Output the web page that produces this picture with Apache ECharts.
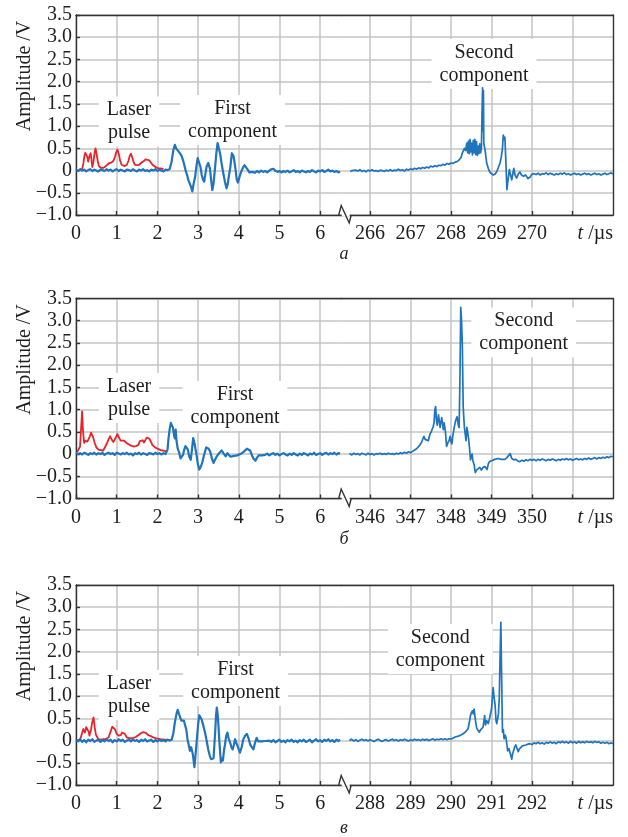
<!DOCTYPE html>
<html>
<head>
<meta charset="utf-8">
<script src="https://cdn.jsdelivr.net/npm/echarts@6/dist/echarts.min.js"></script>
<style>
  html, body { margin: 0; padding: 0; background: #fff; }
  #chart { width: 628px; height: 837px; }
</style>
</head>
<body>
<div id="chart"></div>
<script>
// ---- axes ----
const yMin = -1, yMax = 3.5, yStep = 0.5;
const leftRange = [0, 6.53];
const leftTicks = [0, 1, 2, 3, 4, 5, 6];

const rangeA = [265.3, 272];
const ticksA = [266, 267, 268, 269, 270, 271];
const labelsA = [266, 267, 268, 269, 270];

const rangeB = [345.3, 352];
const ticksB = [346, 347, 348, 349, 350, 351];
const labelsB = [346, 347, 348, 349, 350];

const rangeC = [287.3, 294];
const ticksC = [288, 289, 290, 291, 292, 293];
const labelsC = [288, 289, 290, 291, 292];

const panelLetters = ['а', 'б', 'в'];

// ---- panel a: time (µs), amplitude (V) ----
const laserA = [[0.10,0.02],[0.15,0.03],[0.18,0.15],[0.21,0.35],[0.23,0.4],[0.25,0.43],[0.28,0.3],[0.30,0.2],[0.33,0.32],[0.36,0.39],[0.38,0.25],[0.40,0.08],[0.43,0.2],[0.46,0.42],[0.48,0.5],[0.51,0.35],[0.54,0.18],[0.57,0.09],[0.62,0.06],[0.67,0.06],[0.72,0.09],[0.77,0.13],[0.82,0.17],[0.87,0.18],[0.92,0.22],[0.96,0.32],[0.99,0.42],[1.02,0.47],[1.05,0.38],[1.08,0.24],[1.12,0.13],[1.16,0.1],[1.20,0.1],[1.25,0.13],[1.29,0.22],[1.32,0.33],[1.35,0.38],[1.38,0.3],[1.42,0.18],[1.45,0.13],[1.50,0.12],[1.55,0.13],[1.60,0.17],[1.66,0.21],[1.71,0.25],[1.75,0.26],[1.80,0.23],[1.84,0.19],[1.88,0.13],[1.92,0.09],[1.97,0.07],[2.02,0.05],[2.08,0.05],[2.15,0.03]];

const earlyA = [[0,0.02],[0.05,-0.01],[0.1,0.03],[0.15,0],[0.2,0.02],[0.25,-0.02],[0.3,0.01],[0.35,0.03],[0.4,-0.01],[0.45,0.02],[0.5,0],[0.55,-0.02],[0.6,0.02],[0.65,0.01],[0.7,-0.01],[0.75,0.03],[0.8,0],[0.85,0.02],[0.9,-0.02],[0.95,0.01],[1,0.03],[1.05,-0.01],[1.1,0.02],[1.15,0],[1.2,-0.02],[1.25,0.02],[1.3,0.01],[1.35,-0.01],[1.4,0.03],[1.45,0],[1.5,-0.02],[1.55,0.02],[1.6,0],[1.65,0.03],[1.7,-0.01],[1.75,0.01],[1.8,-0.02],[1.85,0.02],[1.9,0],[1.95,0.03],[2,-0.01],[2.05,0.02],[2.1,0],[2.15,-0.02],[2.2,0.02],[2.25,0.01],[2.3,0.03],
  [2.35,0.2],[2.39,0.45],[2.43,0.58],[2.46,0.5],[2.49,0.52],[2.52,0.43],[2.56,0.38],[2.6,0.32],[2.65,0.17],[2.7,-0.02],[2.73,-0.1],[2.76,-0.21],[2.8,-0.3],[2.83,-0.38],[2.86,-0.47],[2.89,-0.3],[2.93,-0.13],[2.96,0.1],[2.99,0.28],[3.03,0.25],[3.06,0.08],[3.09,-0.1],[3.12,-0.2],[3.15,-0.25],[3.18,-0.08],[3.21,0.09],[3.25,0.17],[3.29,0.05],[3.32,-0.2],[3.35,-0.44],[3.38,-0.3],[3.42,0.09],[3.45,0.4],[3.48,0.62],[3.51,0.5],[3.54,0.39],[3.58,0.15],[3.62,-0.06],[3.66,-0.25],[3.7,-0.4],[3.73,-0.3],[3.76,-0.1],[3.79,0.05],[3.83,0.39],[3.87,0.33],[3.91,0.1],[3.95,-0.2],[3.98,-0.27],[4.01,-0.17],[4.05,-0.05],[4.1,0.06],[4.14,0.12],[4.18,0.08],[4.22,0.02],[4.26,-0.04],[4.3,-0.06],
  [4.35,-0.03],[4.4,-0.05],[4.45,-0.01],[4.5,-0.04],[4.55,0],[4.6,-0.03],[4.65,-0.01],[4.7,-0.04],[4.75,0],[4.8,0.03],[4.85,0.04],[4.9,0],[4.95,-0.03],[5,-0.01],[5.05,-0.04],[5.1,-0.01],[5.15,-0.03],[5.2,0],[5.25,-0.04],[5.3,-0.02],[5.35,0.01],[5.4,-0.03],[5.45,-0.01],[5.5,-0.04],[5.55,0],[5.6,-0.02],[5.65,-0.04],[5.7,-0.01],[5.75,-0.03],[5.8,0.01],[5.85,-0.02],[5.9,-0.04],[5.95,0],[6,-0.02],[6.05,0.01],[6.1,-0.03],[6.15,-0.01],[6.2,0.02],[6.25,-0.02],[6.3,0],[6.35,-0.03],[6.4,-0.01],[6.45,-0.04],[6.49,-0.02]];

const lateA = [[265.51,-0.02],[265.56,0],[265.6,-0.03],[265.65,0.01],[265.7,-0.01],[265.75,0.02],[265.8,-0.02],[265.85,0],[265.9,-0.03],[265.95,0.01],[266,-0.01],[266.05,0.02],[266.1,-0.01],[266.15,0],[266.2,-0.02],[266.25,0.01],[266.3,0],[266.35,-0.02],[266.4,0.01],[266.45,-0.01],[266.5,0.02],[266.55,-0.01],[266.6,0.01],[266.65,0],[266.7,0.03],[266.75,0],[266.8,0.02],[266.85,-0.01],[266.9,0.03],[266.95,0.01],[267,0.04],[267.05,0.02],[267.1,0.05],[267.15,0.03],[267.2,0.06],[267.25,0.04],[267.3,0.07],[267.35,0.05],[267.4,0.08],[267.45,0.06],[267.5,0.1],[267.55,0.08],[267.6,0.11],[267.65,0.09],[267.7,0.12],[267.75,0.11],[267.8,0.14],[267.85,0.12],[267.9,0.16],[267.95,0.14],[268,0.17],[268.05,0.16],[268.1,0.19],[268.15,0.2],[268.2,0.24],[268.25,0.3],[268.28,0.4],[268.3,0.43],[268.33,0.5],[268.36,0.45],[268.39,0.62],[268.41,0.4],[268.43,0.66],[268.45,0.38],[268.47,0.7],[268.49,0.42],[268.51,0.62],[268.53,0.35],[268.55,0.68],[268.57,0.4],[268.59,0.7],[268.61,0.36],[268.63,0.65],[268.65,0.34],[268.67,0.55],[268.69,0.38],[268.71,0.6],[268.73,0.4],[268.75,0.5],[268.77,1.5],[268.78,1.86],[268.79,0.9],[268.8,1.8],[268.81,0.6],[268.84,0.47],[268.88,0.17],[268.92,0.05],[268.96,-0.04],[269,-0.06],[269.04,-0.1],[269.09,-0.08],[269.13,-0.02],[269.17,0],[269.21,0.17],[269.24,0.3],[269.27,0.5],[269.29,0.8],[269.31,0.7],[269.33,0.75],[269.35,0.3],[269.38,-0.43],[269.41,-0.2],[269.44,0.02],[269.47,-0.1],[269.5,-0.21],[269.53,-0.05],[269.55,0.05],[269.58,-0.1],[269.62,-0.17],[269.66,-0.08],[269.7,-0.03],[269.74,-0.1],[269.79,-0.13],[269.84,-0.1],[269.9,-0.18],[269.95,-0.15],[270,-0.08],[270.05,-0.07],[270.1,-0.09],[270.15,-0.06],[270.2,-0.1],[270.25,-0.07],[270.3,-0.08],[270.35,-0.05],[270.4,-0.09],[270.45,-0.06],[270.5,-0.08],[270.55,-0.1],[270.6,-0.07],[270.65,-0.09],[270.7,-0.06],[270.75,-0.08],[270.8,-0.05],[270.85,-0.09],[270.9,-0.07],[270.95,-0.1],[271,-0.08],[271.05,-0.06],[271.1,-0.09],[271.15,-0.07],[271.2,-0.1],[271.25,-0.08],[271.3,-0.06],[271.35,-0.09],[271.4,-0.07],[271.45,-0.1],[271.5,-0.08],[271.55,-0.06],[271.6,-0.09],[271.65,-0.07],[271.7,-0.1],[271.75,-0.08],[271.8,-0.06],[271.85,-0.09],[271.9,-0.07],[271.95,-0.05],[272,-0.08]];

// ---- panel б ----
const laserB = [[0.03,0.05],[0.07,0.08],[0.10,0.17],[0.12,0.5],[0.15,0.96],[0.17,0.55],[0.20,0.25],[0.23,0.3],[0.25,0.32],[0.28,0.28],[0.30,0.27],[0.34,0.4],[0.37,0.48],[0.39,0.51],[0.42,0.38],[0.46,0.25],[0.50,0.15],[0.55,0.1],[0.61,0.09],[0.67,0.08],[0.71,0.12],[0.75,0.22],[0.80,0.33],[0.84,0.4],[0.88,0.32],[0.92,0.27],[0.97,0.36],[1.02,0.45],[1.06,0.36],[1.10,0.3],[1.14,0.33],[1.18,0.3],[1.23,0.26],[1.29,0.22],[1.35,0.19],[1.41,0.17],[1.47,0.18],[1.53,0.2],[1.57,0.29],[1.60,0.25],[1.64,0.31],[1.67,0.26],[1.71,0.3],[1.74,0.37],[1.77,0.34],[1.80,0.35],[1.84,0.28],[1.88,0.2],[1.93,0.16],[1.98,0.13],[2.03,0.11],[2.08,0.09],[2.13,0.08],[2.18,0.07],[2.22,0.06]];

const earlyB = [[0,0.03],[0.05,0],[0.1,0.02],[0.15,-0.01],[0.2,0.03],[0.25,0.01],[0.3,-0.02],[0.35,0.02],[0.4,0],[0.45,0.03],[0.5,-0.01],[0.55,0.02],[0.6,0],[0.65,0.03],[0.7,-0.02],[0.75,0.01],[0.8,0.03],[0.85,0],[0.9,0.02],[0.95,-0.02],[1,0.03],[1.05,0.01],[1.1,-0.01],[1.15,0.02],[1.2,0],[1.25,0.03],[1.3,-0.01],[1.35,0.01],[1.4,-0.03],[1.45,0.02],[1.5,0],[1.55,0.03],[1.6,-0.01],[1.65,0.02],[1.7,0],[1.75,-0.02],[1.8,0.02],[1.85,0.01],[1.9,-0.01],[1.95,0.03],[2,0],[2.05,0.02],[2.1,-0.01],[2.15,0.02],[2.2,0],[2.23,0.02],
  [2.25,0.1],[2.27,0.32],[2.3,0.55],[2.33,0.7],[2.36,0.68],[2.38,0.6],[2.41,0.42],[2.43,0.35],[2.45,0.55],[2.47,0.3],[2.5,0.12],[2.53,0.05],[2.57,-0.1],[2.6,-0.13],[2.63,-0.02],[2.66,0.1],[2.69,0.18],[2.72,0.21],[2.75,0.1],[2.78,-0.05],[2.82,-0.13],[2.85,0.1],[2.88,0.36],[2.91,0.25],[2.95,0.05],[2.99,-0.2],[3.03,-0.35],[3.07,-0.28],[3.11,-0.17],[3.14,-0.05],[3.17,0.05],[3.2,0.15],[3.23,0.19],[3.26,0.12],[3.3,0.05],[3.34,-0.1],[3.38,-0.2],[3.42,-0.12],[3.46,-0.05],[3.5,0],[3.54,0.02],[3.58,0.08],[3.6,0.1],[3.64,0],[3.68,-0.05],[3.72,0.02],[3.76,-0.02],[3.8,-0.06],[3.84,-0.09],[3.88,-0.04],[3.92,-0.06],[3.96,-0.03],[4,-0.05],[4.04,0],[4.08,0.02],[4.12,0.05],[4.16,0.07],[4.2,0.12],[4.24,0.15],[4.28,0.08],[4.32,-0.02],[4.36,-0.1],[4.41,-0.15],[4.45,-0.08],[4.49,-0.03],[4.53,0],[4.57,-0.03],[4.61,0.01],
  [4.65,-0.02],[4.7,0.01],[4.75,-0.03],[4.8,0],[4.85,0.02],[4.9,-0.02],[4.95,0.01],[5,-0.03],[5.05,0],[5.1,0.02],[5.15,-0.01],[5.2,-0.03],[5.25,0.01],[5.3,-0.02],[5.35,0.02],[5.4,-0.01],[5.45,-0.03],[5.5,0.01],[5.55,-0.02],[5.6,0.02],[5.65,0],[5.7,-0.03],[5.75,0.01],[5.8,-0.01],[5.85,0.03],[5.9,-0.02],[5.95,0],[6,0.02],[6.05,-0.02],[6.1,0.01],[6.15,0.03],[6.2,-0.01],[6.25,0.02],[6.3,0],[6.35,0.03],[6.4,-0.01],[6.45,0.02],[6.49,0.01]];

const lateB = [[345.49,0.01],[345.55,-0.02],[345.6,0.02],[345.65,-0.01],[345.7,0.01],[345.75,-0.02],[345.8,0.02],[345.85,0],[345.9,-0.02],[345.95,0.02],[346,-0.01],[346.05,0.01],[346.1,-0.02],[346.15,0.01],[346.2,0],[346.25,0.02],[346.3,-0.01],[346.35,0.01],[346.4,-0.01],[346.45,0.02],[346.5,0],[346.55,0.01],[346.6,-0.01],[346.65,0.02],[346.7,0],[346.75,0.03],[346.8,0.01],[346.85,0.04],[346.9,0.02],[346.95,0.05],[347,0.03],[347.05,0.06],[347.1,0.09],[347.15,0.12],[347.19,0.14],[347.23,0.2],[347.27,0.26],[347.3,0.29],[347.33,0.4],[347.36,0.33],[347.4,0.36],[347.44,0.3],[347.48,0.45],[347.51,0.5],[347.53,0.52],[347.56,0.62],[347.58,0.7],[347.6,1],[347.62,1.07],[347.64,0.75],[347.66,0.65],[347.69,0.88],[347.71,0.85],[347.73,0.6],[347.75,0.72],[347.77,0.82],[347.79,0.83],[347.81,0.55],[347.83,0.7],[347.86,0.52],[347.89,0.17],[347.92,0.25],[347.95,0.3],[347.98,0.4],[348,0.28],[348.02,0.23],[348.05,0.45],[348.08,0.6],[348.1,0.7],[348.12,0.77],[348.15,0.84],[348.18,0.65],[348.2,0.6],[348.22,1.67],[348.24,3.3],[348.26,3],[348.28,2.42],[348.3,1.07],[348.33,0.6],[348.35,0.62],[348.37,0.3],[348.39,0.6],[348.41,0.5],[348.44,0.3],[348.47,0],[348.48,-0.13],[348.5,-0.05],[348.52,0],[348.54,-0.15],[348.57,-0.24],[348.6,-0.42],[348.63,-0.36],[348.67,-0.38],[348.71,-0.3],[348.75,-0.36],[348.79,-0.3],[348.84,-0.28],[348.89,-0.35],[348.92,-0.22],[348.95,-0.17],[349,-0.15],[349.04,-0.17],[349.08,-0.12],[349.12,-0.1],[349.16,-0.1],[349.2,-0.06],[349.24,-0.12],[349.28,-0.1],[349.33,-0.12],[349.38,-0.08],[349.42,-0.05],[349.46,0.01],[349.5,-0.1],[349.55,-0.13],[349.6,-0.12],[349.65,-0.16],[349.7,-0.17],[349.75,-0.14],[349.8,-0.16],[349.85,-0.13],[349.9,-0.15],[349.95,-0.12],[350,-0.14],[350.05,-0.12],[350.1,-0.15],[350.15,-0.12],[350.2,-0.14],[350.25,-0.11],[350.3,-0.13],[350.35,-0.15],[350.4,-0.12],[350.45,-0.14],[350.5,-0.11],[350.55,-0.13],[350.6,-0.15],[350.65,-0.12],[350.7,-0.14],[350.75,-0.11],[350.8,-0.13],[350.85,-0.1],[350.9,-0.13],[350.95,-0.11],[351,-0.14],[351.05,-0.12],[351.1,-0.1],[351.15,-0.13],[351.2,-0.11],[351.25,-0.13],[351.3,-0.1],[351.35,-0.12],[351.4,-0.09],[351.45,-0.12],[351.5,-0.1],[351.55,-0.08],[351.6,-0.11],[351.65,-0.08],[351.7,-0.1],[351.75,-0.07],[351.8,-0.09],[351.85,-0.06],[351.9,-0.08],[351.95,-0.05],[352,-0.06]];

// ---- panel в ----
const laserC = [[0.03,0.01],[0.10,0.02],[0.14,0.04],[0.18,0.26],[0.22,0.18],[0.25,0.3],[0.28,0.33],[0.31,0.2],[0.33,0.11],[0.37,0.25],[0.40,0.42],[0.43,0.52],[0.46,0.3],[0.49,0.13],[0.55,0.03],[0.61,0.02],[0.67,0.03],[0.74,0.04],[0.8,0.07],[0.85,0.2],[0.89,0.31],[0.92,0.34],[0.96,0.25],[1.0,0.15],[1.05,0.11],[1.1,0.12],[1.13,0.18],[1.16,0.22],[1.2,0.15],[1.25,0.07],[1.33,0.05],[1.41,0.06],[1.47,0.08],[1.53,0.12],[1.6,0.17],[1.66,0.19],[1.72,0.17],[1.78,0.12],[1.84,0.1],[1.9,0.07],[1.98,0.05],[2.07,0.03],[2.18,0.02],[2.31,0.01]];

const earlyC = [[0,0.01],[0.05,-0.02],[0.1,0.03],[0.15,-0.03],[0.2,0.01],[0.25,-0.04],[0.3,0.02],[0.35,-0.01],[0.4,0.03],[0.45,-0.03],[0.5,0],[0.55,0.02],[0.6,-0.03],[0.65,0.01],[0.7,-0.02],[0.75,0.03],[0.8,-0.01],[0.85,0.02],[0.9,-0.04],[0.95,0.01],[1,-0.02],[1.05,0.03],[1.1,-0.01],[1.15,0.02],[1.2,-0.03],[1.25,0],[1.3,0.02],[1.35,-0.02],[1.4,0.03],[1.45,-0.01],[1.5,0.01],[1.55,-0.03],[1.6,0.02],[1.65,-0.01],[1.7,0.03],[1.75,-0.02],[1.8,0],[1.85,0.02],[1.9,-0.03],[1.95,0.01],[2,-0.02],[2.05,0.02],[2.1,-0.01],[2.15,0.01],[2.2,-0.02],[2.25,0.02],[2.3,0],[2.35,0.02],
  [2.39,0.15],[2.43,0.41],[2.47,0.6],[2.5,0.69],[2.53,0.6],[2.56,0.56],[2.59,0.45],[2.62,0.41],[2.65,0.45],[2.68,0.48],[2.71,0.25],[2.74,0.03],[2.77,-0.1],[2.8,-0.23],[2.83,-0.15],[2.87,-0.3],[2.91,-0.6],[2.94,-0.3],[2.97,0.03],[3.0,0.35],[3.03,0.57],[3.06,0.52],[3.09,0.47],[3.13,0.33],[3.17,0.18],[3.21,0],[3.25,-0.2],[3.29,-0.35],[3.32,-0.42],[3.36,-0.38],[3.38,-0.4],[3.42,0.18],[3.44,0.55],[3.46,0.74],[3.48,0.6],[3.5,0.35],[3.52,0.03],[3.56,-0.49],[3.59,-0.4],[3.61,-0.45],[3.64,-0.2],[3.66,-0.1],[3.69,0.1],[3.72,0.18],[3.75,0.05],[3.79,-0.05],[3.82,-0.15],[3.85,-0.2],[3.88,-0.1],[3.91,0.03],[3.94,-0.05],[3.97,-0.12],[4.0,-0.2],[4.03,-0.27],[4.07,-0.15],[4.11,0.02],[4.15,0.1],[4.2,0.15],[4.24,0.05],[4.28,-0.09],[4.32,-0.15],[4.36,-0.2],[4.4,-0.05],[4.44,0.06],[4.48,-0.02],[4.52,-0.06],[4.56,-0.02],[4.6,-0.05],[4.65,-0.01],[4.69,-0.04],
  [4.75,0],[4.8,-0.03],[4.85,0.01],[4.9,-0.04],[4.95,-0.01],[5,0.02],[5.05,-0.03],[5.1,0],[5.15,-0.04],[5.2,0.01],[5.25,-0.02],[5.3,0.02],[5.35,-0.03],[5.4,0],[5.45,-0.04],[5.5,0.01],[5.55,-0.02],[5.6,0.02],[5.65,-0.03],[5.7,-0.01],[5.75,0.02],[5.8,-0.04],[5.85,0],[5.9,0.03],[5.95,-0.02],[6,0.01],[6.05,-0.03],[6.1,0.02],[6.15,-0.01],[6.2,0.03],[6.25,-0.02],[6.3,0.01],[6.35,-0.03],[6.4,0.02],[6.45,-0.01],[6.49,0.02]];

const lateC = [[287.49,0],[287.54,0.03],[287.6,-0.01],[287.65,0.02],[287.7,-0.02],[287.75,0.01],[287.8,0.03],[287.85,0],[287.9,0.02],[287.95,-0.01],[288,0.02],[288.05,0],[288.1,-0.02],[288.15,0.01],[288.2,0.03],[288.25,0],[288.3,-0.02],[288.35,0.01],[288.4,0.02],[288.45,-0.01],[288.5,0.01],[288.55,0.03],[288.6,0],[288.65,0.02],[288.7,-0.01],[288.75,0.02],[288.8,0],[288.85,0.03],[288.9,0.01],[288.95,-0.01],[289,0.02],[289.05,0],[289.1,0.03],[289.15,0.01],[289.2,0.02],[289.25,0],[289.3,0.03],[289.35,0.01],[289.4,0.03],[289.45,0],[289.5,0.02],[289.55,0.04],[289.6,0.01],[289.65,0.03],[289.7,0.02],[289.75,0.04],[289.8,0.02],[289.85,0.04],[289.9,0.02],[289.95,0.04],[290.02,0.04],[290.06,0.06],[290.1,0.08],[290.14,0.09],[290.18,0.1],[290.22,0.11],[290.26,0.13],[290.3,0.14],[290.34,0.18],[290.38,0.22],[290.42,0.26],[290.45,0.4],[290.48,0.56],[290.5,0.62],[290.53,0.67],[290.55,0.6],[290.57,0.71],[290.59,0.55],[290.61,0.41],[290.63,0.3],[290.65,0.25],[290.68,0.22],[290.7,0.19],[290.73,0.24],[290.76,0.22],[290.79,0.3],[290.81,0.42],[290.83,0.56],[290.85,0.35],[290.88,0.45],[290.9,0.41],[290.92,0.38],[290.95,0.49],[290.97,0.5],[291,0.71],[291.02,0.95],[291.04,1.19],[291.06,1],[291.09,0.79],[291.11,0.45],[291.13,0.38],[291.15,0.49],[291.17,0.6],[291.19,0.93],[291.21,1.83],[291.23,2.66],[291.25,1.43],[291.27,0.19],[291.29,0.25],[291.31,0.04],[291.34,0.12],[291.36,0.05],[291.38,-0.1],[291.4,-0.23],[291.43,-0.18],[291.46,-0.2],[291.48,-0.35],[291.5,-0.42],[291.52,-0.3],[291.54,-0.28],[291.57,-0.15],[291.6,-0.1],[291.62,-0.12],[291.64,-0.14],[291.66,-0.25],[291.68,-0.2],[291.72,-0.18],[291.76,-0.12],[291.8,-0.14],[291.85,-0.1],[291.9,-0.08],[291.95,-0.07],[292,-0.09],[292.05,-0.05],[292.1,-0.07],[292.15,-0.04],[292.2,-0.07],[292.25,-0.05],[292.3,-0.08],[292.35,-0.04],[292.4,-0.06],[292.45,-0.03],[292.5,-0.06],[292.55,-0.04],[292.6,-0.07],[292.65,-0.03],[292.7,-0.05],[292.75,-0.02],[292.8,-0.05],[292.85,-0.03],[292.9,-0.06],[292.95,-0.02],[293,-0.05],[293.05,-0.03],[293.1,-0.06],[293.15,-0.02],[293.2,-0.05],[293.25,-0.03],[293.3,-0.05],[293.35,-0.02],[293.4,-0.04],[293.45,-0.03],[293.5,-0.05],[293.55,-0.02],[293.6,-0.04],[293.65,-0.03],[293.7,-0.06],[293.75,-0.04],[293.8,-0.06],[293.85,-0.04],[293.9,-0.07],[293.95,-0.05],[294,-0.07]];

// ---- layout & styling ----
const FONT = '"Liberation Serif", "Times New Roman", serif';
const TEXT = '#1e1e1e';
const FRAME = { color: '#333', width: 1.4 };
const GRIDLINE = { color: '#c4c4c4', width: 1.5 };
const BLUE = '#1f74bd';
const RED = '#e8232a';
const TICK_FONT = 20;

const PLOT_LEFT = 76, BREAK_X = 341.7, PLOT_RIGHT = 613, PLOT_H = 200;

const panels = [
  { top: 15, laser: laserA, early: earlyA, late: lateA, range: rangeA, ticks: ticksA, labels: labelsA,
    laserAt: [129, 121.5], firstAt: [232.5, 120], secondAt: [484, 64], letterY: 254 },
  { top: 298.5, laser: laserB, early: earlyB, late: lateB, range: rangeB, ticks: ticksB, labels: labelsB,
    laserAt: [129, 398], firstAt: [235, 406], secondAt: [523.7, 332.5], letterY: 539 },
  { top: 585, laser: laserC, early: earlyC, late: lateC, range: rangeC, ticks: ticksC, labels: labelsC,
    laserAt: [129, 695], firstAt: [235.5, 681], secondAt: [440.3, 649], letterY: 828 }
];

function yLabel(v) {
  if (Math.abs(v) < 1e-9) return '0';
  const s = Math.abs(v).toFixed(1);
  return v < 0 ? '\u2212' + s : s;
}

const grids = [], xAxes = [], yAxes = [], series = [], graphics = [];

panels.forEach((p, i) => {
  const gl = grids.length, gr = gl + 1;
  grids.push({ left: PLOT_LEFT, width: BREAK_X - PLOT_LEFT, top: p.top, height: PLOT_H });
  grids.push({ left: BREAK_X, width: PLOT_RIGHT - BREAK_X, top: p.top, height: PLOT_H });

  const bottomAxis = (gi, range, ticks, labels) => ({
    gridIndex: gi, type: 'value', position: 'bottom', min: range[0], max: range[1],
    axisLine: { show: true, onZero: false, lineStyle: FRAME },
    axisTick: { show: true, inside: true, length: 4, customValues: ticks, lineStyle: FRAME },
    axisLabel: { show: true, customValues: labels, color: TEXT, fontFamily: FONT, fontSize: TICK_FONT, margin: 9,
                 formatter: v => String(Math.round(v)) },
    splitLine: { show: true, lineStyle: GRIDLINE }
  });
  const topAxis = (gi, range) => ({
    gridIndex: gi, type: 'value', position: 'top', min: range[0], max: range[1],
    axisLine: { show: true, onZero: false, lineStyle: FRAME },
    axisTick: { show: false }, axisLabel: { show: false }, splitLine: { show: false }
  });

  const xl = xAxes.length;
  xAxes.push(bottomAxis(gl, leftRange, leftTicks, leftTicks));
  xAxes.push(topAxis(gl, leftRange));
  const xr = xAxes.length;
  xAxes.push(bottomAxis(gr, p.range, p.ticks, p.labels));
  xAxes.push(topAxis(gr, p.range));

  const yl = yAxes.length;
  yAxes.push({
    gridIndex: gl, type: 'value', position: 'left', min: yMin, max: yMax, interval: yStep,
    axisLine: { show: true, onZero: false, lineStyle: FRAME },
    axisTick: { show: true, inside: true, length: 4, lineStyle: FRAME },
    axisLabel: { color: TEXT, fontFamily: FONT, fontSize: TICK_FONT, margin: 4, formatter: yLabel },
    splitLine: { show: true, lineStyle: GRIDLINE }
  });
  const yr = yAxes.length;
  yAxes.push({
    gridIndex: gr, type: 'value', position: 'right', min: yMin, max: yMax, interval: yStep,
    axisLine: { show: true, onZero: false, lineStyle: FRAME },
    axisTick: { show: false }, axisLabel: { show: false },
    splitLine: { show: true, lineStyle: GRIDLINE }
  });

  const line = (data, xi, yi, color, width) => ({
    type: 'line', data, xAxisIndex: xi, yAxisIndex: yi, showSymbol: false, symbol: 'none',
    silent: true, animation: false, clip: true, z: 3,
    lineStyle: { color, width, join: 'round' }
  });
  series.push(line(p.laser, xl, yl, RED, 1.8));
  series.push(line(p.early, xl, yl, BLUE, 2.2));
  series.push(line(p.late, xr, yr, BLUE, 1.7));

  const bottom = p.top + PLOT_H;

  // axis title, rotated
  graphics.push({ type: 'text', x: 25, y: p.top + 61, rotation: Math.PI / 2, z: 10,
    style: { text: 'Amplitude /V', fontFamily: FONT, fontSize: 20, fill: TEXT, align: 'center', verticalAlign: 'middle' } });

  // time unit at the end of the axis
  graphics.push({ type: 'text', x: PLOT_RIGHT, y: bottom + 19, z: 10,
    style: { text: '{i|t} /µs', fontFamily: FONT, fontSize: TICK_FONT, fill: TEXT, align: 'right', verticalAlign: 'middle',
             rich: { i: { fontFamily: FONT, fontSize: TICK_FONT, fontStyle: 'italic', fill: TEXT } } } });

  // axis break mark
  graphics.push({ type: 'polyline', z: 10, shape: { points: [[BREAK_X, bottom], [BREAK_X + 8, bottom]] },
    style: { stroke: '#fff', lineWidth: 3, fill: null } });
  graphics.push({ type: 'polyline', z: 11,
    shape: { points: [[BREAK_X - 3, bottom], [BREAK_X - 0.5, bottom - 9.5], [BREAK_X + 7.5, bottom + 8], [BREAK_X + 9.5, bottom]] },
    style: { stroke: FRAME.color, lineWidth: 1.4, fill: null } });

  // panel letter
  graphics.push({ type: 'text', x: 344, y: p.letterY, z: 10,
    style: { text: panelLetters[i], fontFamily: FONT, fontSize: 18, fontStyle: 'italic', fill: TEXT, align: 'center', verticalAlign: 'middle' } });

  // annotations with white boxes
  const note = (txt, at) => ({ type: 'text', x: at[0], y: at[1], z: 1,
    style: { text: txt, fontFamily: FONT, fontSize: 20, lineHeight: 23, fill: TEXT, align: 'center', verticalAlign: 'middle',
             backgroundColor: '#fff', padding: [2, 8] } });
  graphics.push(note('Laser\npulse', p.laserAt));
  graphics.push(note('First\ncomponent', p.firstAt));
  graphics.push(note('Second\ncomponent', p.secondAt));
});

const chart = echarts.init(document.getElementById('chart'), null, { renderer: 'canvas' });
chart.setOption({
  backgroundColor: '#fff',
  animation: false,
  grid: grids,
  xAxis: xAxes,
  yAxis: yAxes,
  series,
  graphic: { elements: graphics }
});
</script>
</body>
</html>
